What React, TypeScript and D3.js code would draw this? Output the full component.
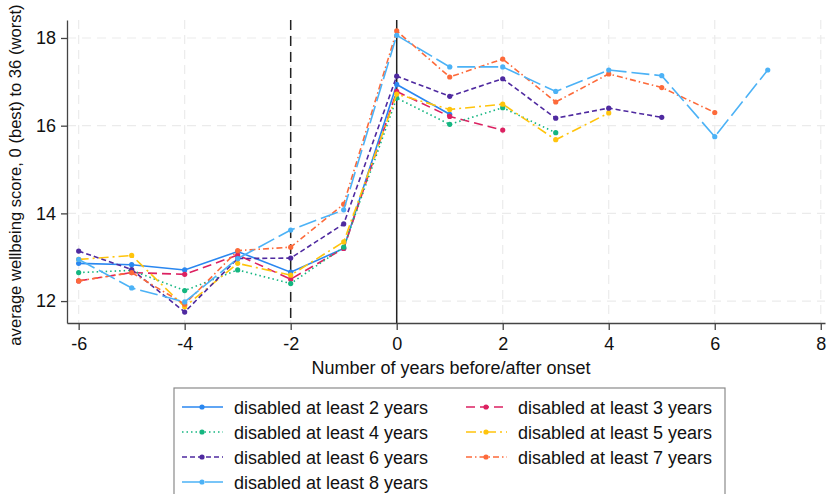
import React, { useEffect, useRef } from 'react';
import * as d3 from 'd3';

// years relative to onset
const years = [-6, -5, -4, -3, -2, -1, 0, 1, 2, 3, 4, 5, 6, 7];

// average wellbeing score per group
const atLeast2 = [12.86, 12.83, 12.71, 13.13, 12.66, 13.2, 16.94, 16.26];
const atLeast3 = [12.46, 12.65, 12.61, 13.05, 12.5, 13.2, 16.78, 16.21, 15.9];
const atLeast4 = [12.65, 12.7, 12.24, 12.71, 12.4, 13.23, 16.63, 16.03, 16.41, 15.84];
const atLeast5 = [12.95, 13.04, 11.87, 12.86, 12.59, 13.35, 16.72, 16.37, 16.49, 15.68, 16.29];
const atLeast6 = [13.14, 12.72, 11.75, 12.97, 12.98, 13.76, 17.13, 16.67, 17.07, 16.17, 16.4, 16.19];
const atLeast7 = [12.46, 12.65, 11.93, 13.15, 13.23, 14.21, 18.16, 17.11, 17.52, 16.54, 17.18, 16.87, 16.3];
const atLeast8 = [12.95, 12.3, 11.98, 12.97, 13.62, 14.08, 18.06, 17.34, 17.34, 16.78, 17.27, 17.14, 15.75, 17.27];

const xTicks = [-6, -4, -2, 0, 2, 4, 6, 8];
const yTicks = [12, 14, 16, 18];

const series = [
  { label: 'disabled at least 2 years', values: atLeast2, color: '#2a87f0', dash: null },
  { label: 'disabled at least 3 years', values: atLeast3, color: '#dc2161', dash: '9,5' },
  { label: 'disabled at least 4 years', values: atLeast4, color: '#14b680', dash: '1.5,3' },
  { label: 'disabled at least 5 years', values: atLeast5, color: '#ffc40c', dash: '10,4,2,4' },
  { label: 'disabled at least 6 years', values: atLeast6, color: '#4f2aa0', dash: '5,3' },
  { label: 'disabled at least 7 years', values: atLeast7, color: '#fd6a3a', dash: '6,3,1.5,3' },
  { label: 'disabled at least 8 years', values: atLeast8, color: '#4cb2f6', dash: '18,5' },
];

const width = 830;
const height = 494;
const font = 'Helvetica, Arial, "Liberation Sans", sans-serif';

const App = () => {
  const svgRef = useRef<SVGSVGElement>(null);

  useEffect(() => {
    const svg = d3.select(svgRef.current);
    svg.selectAll('*').remove();

    const plot = { left: 67, right: 825, top: 20, bottom: 323 };

    const x = d3.scaleLinear().domain([-6.22, 8.08]).range([plot.left, plot.right]);
    const y = d3.scaleLinear().domain([11.5, 18.41]).range([plot.bottom, plot.top]);

    // grid
    const grid = svg.append('g');
    grid.selectAll('line.gy')
      .data(yTicks)
      .enter().append('line')
      .attr('x1', plot.left).attr('x2', plot.right)
      .attr('y1', d => y(d)).attr('y2', d => y(d))
      .attr('stroke', '#ebebeb').attr('stroke-width', 1.2).attr('stroke-dasharray', '9,6');
    grid.selectAll('line.gx')
      .data(xTicks)
      .enter().append('line')
      .attr('x1', d => x(d)).attr('x2', d => x(d))
      .attr('y1', plot.top).attr('y2', plot.bottom)
      .attr('stroke', '#ebebeb').attr('stroke-width', 1.2).attr('stroke-dasharray', '9,6');

    // reference lines
    svg.append('line')
      .attr('x1', x(-2)).attr('x2', x(-2)).attr('y1', plot.top).attr('y2', plot.bottom)
      .attr('stroke', '#222').attr('stroke-width', 1.5).attr('stroke-dasharray', '10,6');
    svg.append('line')
      .attr('x1', x(0)).attr('x2', x(0)).attr('y1', plot.top).attr('y2', plot.bottom)
      .attr('stroke', '#222').attr('stroke-width', 1.5);

    // series
    const line = d3.line<number>()
      .x((d, i) => x(years[i]))
      .y(d => y(d));

    series.forEach(s => {
      const g = svg.append('g');
      g.append('path')
        .datum(s.values)
        .attr('d', line)
        .attr('fill', 'none')
        .attr('stroke', s.color)
        .attr('stroke-width', 1.6)
        .attr('stroke-dasharray', s.dash);
      g.selectAll('circle')
        .data(s.values)
        .enter().append('circle')
        .attr('cx', (d, i) => x(years[i]))
        .attr('cy', d => y(d))
        .attr('r', 2.6)
        .attr('fill', s.color);
    });

    // axes
    const xAxis = svg.append('g')
      .attr('transform', `translate(0, ${plot.bottom})`)
      .call(d3.axisBottom(x).tickValues(xTicks).tickFormat(d3.format('d')).tickSize(7).tickPadding(7).tickSizeOuter(0));
    xAxis.select('.domain').attr('stroke', '#444').attr('stroke-width', 1.3);
    xAxis.selectAll('.tick line').attr('stroke', '#444').attr('stroke-width', 1.3);
    xAxis.selectAll('.tick text')
      .attr('font-family', font).attr('font-size', 18).attr('fill', '#111')
      .text(d => String(d));

    const yAxis = svg.append('g')
      .attr('transform', `translate(${plot.left}, 0)`)
      .call(d3.axisLeft(y).tickValues(yTicks).tickFormat(d3.format('d')).tickSize(6).tickPadding(5).tickSizeOuter(0));
    yAxis.select('.domain').attr('stroke', '#444').attr('stroke-width', 1.3);
    yAxis.selectAll('.tick line').attr('stroke', '#444').attr('stroke-width', 1.3);
    yAxis.selectAll('.tick text')
      .attr('font-family', font).attr('font-size', 18).attr('fill', '#111');

    // axis titles
    svg.append('text')
      .attr('x', 451).attr('y', 374)
      .attr('text-anchor', 'middle')
      .attr('font-family', font).attr('font-size', 18).attr('fill', '#111')
      .text('Number of years before/after onset');

    svg.append('text')
      .attr('transform', `translate(21, 175) rotate(-90)`)
      .attr('text-anchor', 'middle')
      .attr('font-family', font).attr('font-size', 16.6).attr('fill', '#111')
      .text('average wellbeing score, 0 (best) to 36 (worst)');

    // legend
    const legend = svg.append('g');
    legend.append('rect')
      .attr('x', 174).attr('y', 388).attr('width', 551).attr('height', 120)
      .attr('fill', 'white').attr('stroke', '#8a8a8a').attr('stroke-width', 1.2);

    const order = [0, 2, 4, 6, 1, 3, 5];
    order.forEach((si, k) => {
      const s = series[si];
      const col = k < 4 ? 0 : 1;
      const row = k < 4 ? k : k - 4;
      const sx = col === 0 ? 182 : 466;
      const cy = 407 + row * 25;
      legend.append('line')
        .attr('x1', sx).attr('x2', sx + 41).attr('y1', cy).attr('y2', cy)
        .attr('stroke', s.color).attr('stroke-width', 1.6)
        .attr('stroke-dasharray', s.dash);
      legend.append('circle')
        .attr('cx', sx + 20).attr('cy', cy).attr('r', 2.6).attr('fill', s.color);
      legend.append('text')
        .attr('x', sx + 52).attr('y', cy + 6.5)
        .attr('font-family', font).attr('font-size', 18).attr('fill', '#111')
        .text(s.label);
    });
  }, []);

  return (
    <div style={{ position: 'absolute', left: 0, top: 0 }}>
      <svg ref={svgRef} width={width} height={height} style={{ display: 'block', background: 'white' }} />
    </div>
  );
};

export default App;
